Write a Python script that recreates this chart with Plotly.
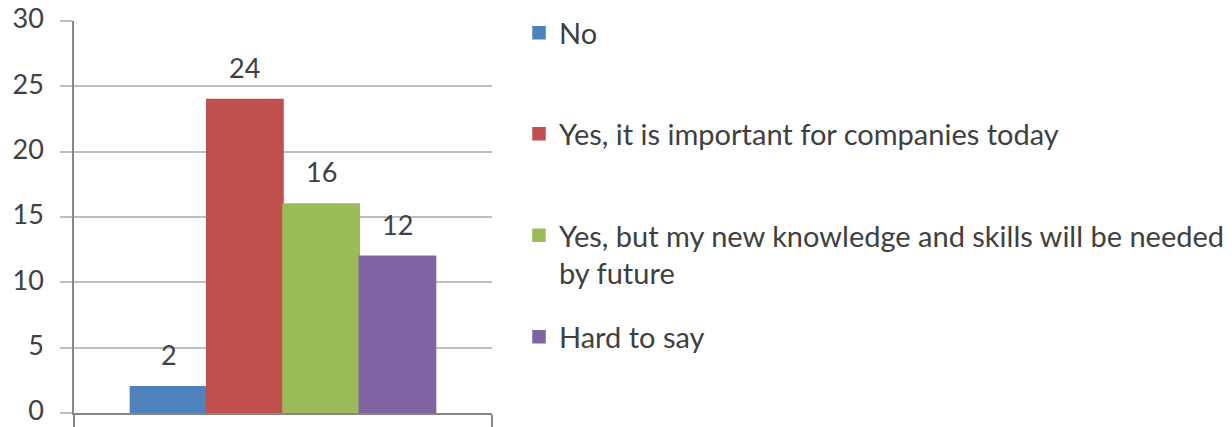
import plotly.graph_objects as go

categories = ["No", "Yes, it is important for companies today",
              "Yes, but my new knowledge and skills will be needed<br>by future",
              "Hard to say"]
values = [2, 24, 16, 12]
colors = ["#4F81BD", "#C0504D", "#9BBB59", "#8064A2"]
y_ticks = [0, 5, 10, 15, 20, 25, 30]

FONT = "Lato"
TXT = "#404040"
W, H = 1232, 427
L, R, T, B = 74, 492, 21, 413
bargap = 0.27

fig = go.Figure()
legend_pos = [(33, "middle"), (134, "middle"), (210, "top"), (337, "middle")]
legend_names = ["legend", "legend2", "legend3", "legend4"]
n = len(values)
width = (1 - bargap) / n
for i, (cat, v, c) in enumerate(zip(categories, values, colors)):
    fig.add_trace(go.Bar(x=[0], y=[v], name=cat, marker=dict(color=c, line=dict(width=1.5, color=c)),
                         legend=legend_names[i], hoverinfo="skip"))

for i, v in enumerate(values):
    off = (i - (n - 1) / 2) * width
    fig.add_annotation(x=off, y=v, xref="x", yref="y", text=str(v), showarrow=False,
                       yanchor="middle", yshift=32, font=dict(family=FONT, size=27, color=TXT))

legend_layout = {}
for name, (py, anchor) in zip(legend_names, legend_pos):
    legend_layout[name] = dict(
        x=(519 - L) / (R - L), y=(B - py) / (B - T), xref="paper", yref="paper",
        xanchor="left", yanchor=anchor, valign="top",
        font=dict(family=FONT, size=29, color=TXT),
        bgcolor="rgba(0,0,0,0)", itemwidth=30, tracegroupgap=0,
    )

fig.update_layout(
    width=W, height=H,
    margin=dict(l=L, r=W - R, t=T, b=H - B, pad=0, autoexpand=False),
    paper_bgcolor="white", plot_bgcolor="white",
    barmode="group", bargap=bargap, bargroupgap=0,
    showlegend=True,
    font=dict(family=FONT, size=27, color=TXT),
    **legend_layout,
)
fig.update_xaxes(type="linear", range=[-0.5, 0.5], tickvals=[-0.5, 0.5], showticklabels=False,
                 showline=True, linecolor="#868686", linewidth=1.5,
                 ticks="outside", ticklen=12, tickcolor="#868686", tickwidth=1.5,
                 showgrid=False, zeroline=False, fixedrange=True)
fig.update_yaxes(range=[0, 30], tickvals=y_ticks, ticktext=[str(t) for t in y_ticks],
                 showline=True, linecolor="#868686", linewidth=1.5,
                 ticks="outside", ticklen=12, tickcolor="#BFBFBF", tickwidth=1.5,
                 showgrid=True, gridcolor="#BFBFBF", gridwidth=1.5, zeroline=False,
                 ticklabelstandoff=11, ticklabeloverflow="allow", ticklabelshift=-2,
                 tickfont=dict(family=FONT, size=27, color=TXT), fixedrange=True)

fig.write_html("out.html", config={"displayModeBar": False},
               post_script="document.body.style.margin='0';")
